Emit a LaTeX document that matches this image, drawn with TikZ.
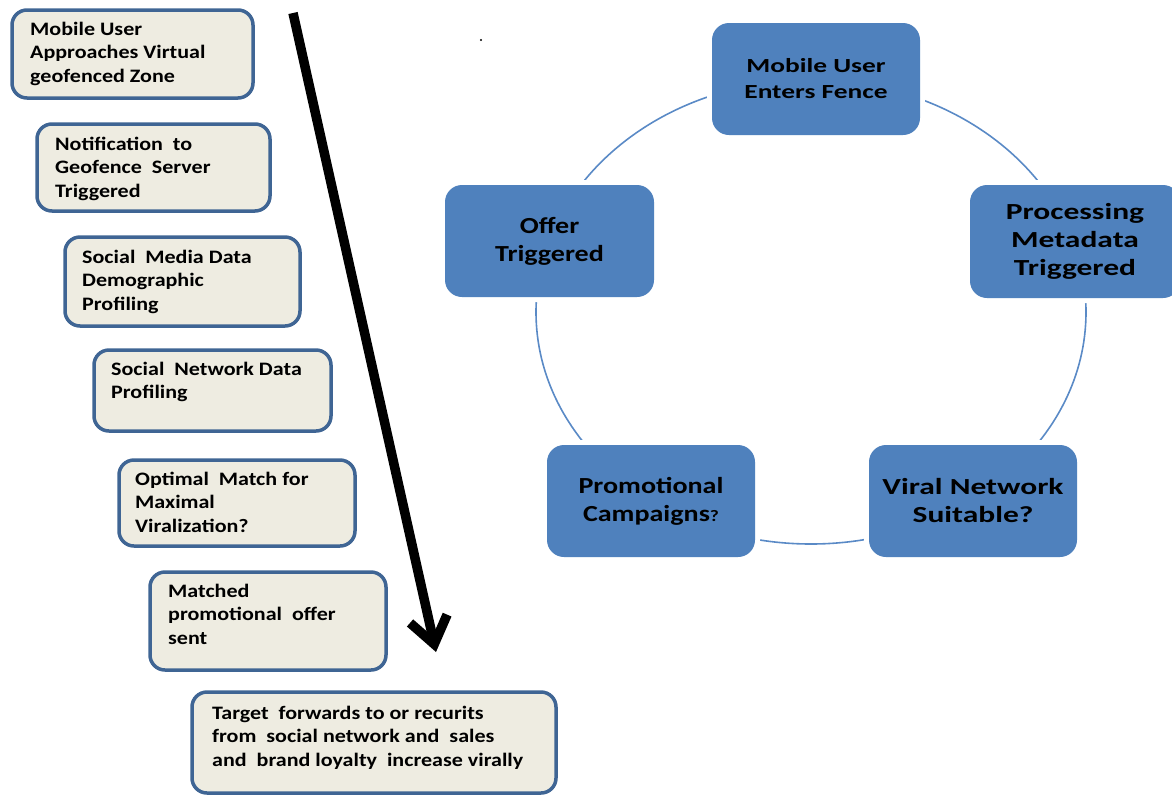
\documentclass[tikz,border=0pt]{standalone}
\usepackage{fontspec}
\setmainfont{Carlito}
\newfontfamily\lfont[FakeStretch=1.16]{Carlito}
\newfontfamily\bfontw[FakeStretch=1.22]{Carlito}
\newfontfamily\bfontx[FakeStretch=1.37]{Carlito}
\usetikzlibrary{arrows.meta}
\definecolor{lfill}{HTML}{EEECE1}
\definecolor{lborder}{HTML}{3F6594}
\definecolor{bfill}{HTML}{4F81BD}
\definecolor{ring}{HTML}{5A8AC6}
\tikzset{
  lbox/.style={draw=lborder, fill=lfill, line width=3.5pt, rounded corners=15pt, inner sep=0pt},
  ltext/.style={anchor=north west, inner sep=0pt, align=left,
     font=\lfont\bfseries\fontsize{19}{23.5}\selectfont},
  bbox/.style={fill=bfill, rounded corners=17pt, inner sep=0pt, align=center,
     preaction={draw=white, line width=10pt},
     font=\bfontw\bfseries\fontsize{23}{28}\selectfont},
  wide/.style={font=\bfontx\bfseries\fontsize{23}{28}\selectfont},
  ringline/.style={draw=ring, line width=1.6pt},
  bigarrow/.style={line width=9.5pt, -{Straight Barb[length=26pt,width=38pt]}}
}
\begin{document}
\begin{tikzpicture}[x=1pt,y=-1pt]
\useasboundingbox (0,0) rectangle (1172,796);
% left column
\node[lbox, minimum width=241pt, minimum height=88pt] (l1) at (132.5,54) {};
\node[lbox, minimum width=233pt, minimum height=87pt] (l2) at (153.5,167.5) {};
\node[lbox, minimum width=235pt, minimum height=89pt] (l3) at (182.5,281.5) {};
\node[lbox, minimum width=237pt, minimum height=81pt] (l4) at (212.5,390.5) {};
\node[lbox, minimum width=236pt, minimum height=86pt] (l5) at (237,503) {};
\node[lbox, minimum width=236pt, minimum height=98pt] (l6) at (268,621) {};
\node[lbox, minimum width=364pt, minimum height=101pt] (l7) at (374,742.5) {};
\node[ltext] (t1) at (30,21.7) {Mobile User\\Approaches Virtual\\geofenced Zone};
\node[ltext] (t2) at (55,136.7) {Notification\ \ to\\Geofence\ \ Server\\Triggered};
\node[ltext] (t3) at (82,249.7) {Social\ \ Media Data\\Demographic\\Profiling};
\node[ltext] (t4) at (111,361.7) {Social\ \ Network Data\\Profiling};
\node[ltext] (t5) at (135,471.7) {Optimal\ \ Match for\\Maximal\\Viralization?};
\node[ltext] (t6) at (168,583.7) {Matched\\promotional\ \ offer\\sent};
\node[ltext] (t7) at (212,705.7) {Target\ \ forwards to or recurits\\from\ \ social network and\ \ sales\\and\ \ brand loyalty\ \ increase virally};
% arrow
\coordinate (astart) at (293,13);
\coordinate (aend) at (436,652);
\draw[bigarrow] (astart) -- (aend);
% dot
\fill (481,40) circle (1.1pt);
% cycle
\draw[ringline] (811,312) ellipse [x radius=275pt, y radius=232pt];
\node[bbox, minimum width=208pt, minimum height=112pt, font=\bfontx\bfseries\fontsize{20}{26}\selectfont] (c1) at (816,79) {Mobile User\\Enters Fence};
\node[bbox, wide, minimum width=210pt, minimum height=113pt] (c2) at (1075,241.5) {Processing\\Metadata\\Triggered};
\node[bbox, wide, minimum width=208pt, minimum height=112pt] (c3) at (973,501) {Viral Network\\Suitable?};
\node[bbox, minimum width=208pt, minimum height=112pt] (c4) at (651,501) {Promotional\\Campaigns{\fontsize{16}{16}\selectfont ?}};
\node[bbox, minimum width=209pt, minimum height=112pt] (c5) at (549.5,241) {Offer\\Triggered};
\end{tikzpicture}
\end{document}
